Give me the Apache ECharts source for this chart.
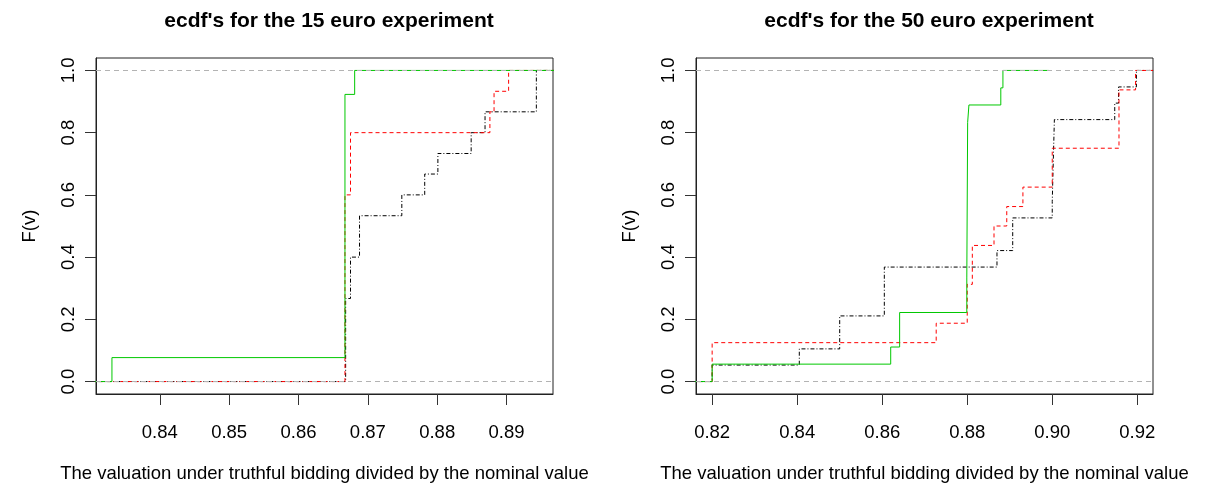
<!DOCTYPE html>
<html>
<head>
<meta charset="utf-8">
<title>ecdf's</title>
<script src="https://cdn.jsdelivr.net/npm/echarts@6/dist/echarts.min.js"></script>
<style>
  html, body { margin: 0; padding: 0; background: #fff; }
  #chart { width: 1206px; height: 486px; }
</style>
</head>
<body>
<div id="chart"></div>
<script>
  // step points (knot, F)
  var green15X = [0.8331, 0.8667, 0.8681]
  var green15F = [0.077, 0.923, 1]
  var red15X = [0.8667, 0.8675, 0.8876, 0.8882, 0.8903]
  var red15F = [0.6, 0.8, 0.867, 0.933, 1]
  var black15X = [0.8668, 0.8675, 0.8688, 0.8749, 0.8782, 0.8801, 0.8849, 0.8869, 0.8943]
  var black15F = [0.267, 0.4, 0.533, 0.6, 0.667, 0.733, 0.8, 0.867, 1]

  var green50X = [0.8200, 0.8620, 0.8641, 0.8799, 0.8801, 0.8804, 0.8879, 0.8884]
  var green50F = [0.056, 0.111, 0.222, 0.333, 0.833, 0.889, 0.944, 1]
  var red50X = [0.8200, 0.8727, 0.8800, 0.8812, 0.8863, 0.8893, 0.8931, 0.9000, 0.9157, 0.9196]
  var red50F = [0.125, 0.1875, 0.3125, 0.4375, 0.5, 0.5625, 0.625, 0.75, 0.9375, 1]
  var black50X = [0.8200, 0.8405, 0.8500, 0.8605, 0.8870, 0.8907, 0.9000, 0.9003, 0.9005, 0.9147, 0.9156, 0.9198]
  var black50F = [0.053, 0.105, 0.211, 0.368, 0.421, 0.526, 0.579, 0.737, 0.842, 0.895, 0.947, 1]
  var green50End = 0.8992   // green line stops short of the right edge

  var ticks15 = [0.84, 0.85, 0.86, 0.87, 0.88, 0.89]
  var ticks50 = [0.82, 0.84, 0.86, 0.88, 0.90, 0.92]
  var ticksF = [0, 0.2, 0.4, 0.6, 0.8, 1.0]

  var titles = ["ecdf's for the 15 euro experiment", "ecdf's for the 50 euro experiment"]
  var xName = 'The valuation under truthful bidding divided by the nominal value'
  var yName = 'F(v)'

  var FONT = "'Liberation Sans', Arial, sans-serif"

  function steps(xs, fs, start, end) {
    var pts = [[start, 0]]
    for (var i = 0; i < xs.length; i++) {
      pts.push([xs[i], fs[i]])
    }
    pts.push([end, 1])
    return pts
  }

  function xAxisOf(idx, min, max, ticks) {
    return {
      type: 'value',
      gridIndex: idx,
      min: min,
      max: max,
      name: xName,
      nameLocation: 'middle',
      nameGap: 70,
      nameTextStyle: { fontFamily: FONT, fontSize: 18.5, color: '#000' },
      axisLine: { show: true, onZero: false, lineStyle: { color: '#222', width: 1 } },
      axisTick: { show: true, length: 11, customValues: ticks, lineStyle: { color: '#333' } },
      axisLabel: {
        customValues: ticks,
        margin: 29,
        fontFamily: FONT,
        fontSize: 18.5,
        color: '#000',
        formatter: function(v) { return v.toFixed(2) }
      },
      splitLine: { show: false }
    }
  }

  function yAxisOf(idx) {
    return {
      type: 'value',
      gridIndex: idx,
      min: -0.04,
      max: 1.04,
      name: yName,
      nameLocation: 'middle',
      nameRotate: 90,
      nameGap: 57,
      nameTextStyle: { fontFamily: FONT, fontSize: 18.5, color: '#000' },
      axisLine: { show: true, onZero: false, lineStyle: { color: '#222', width: 1 } },
      axisTick: { show: true, length: 11, customValues: ticksF, lineStyle: { color: '#333' } },
      axisLabel: {
        customValues: ticksF,
        rotate: 90,
        margin: 18,
        fontFamily: FONT,
        fontSize: 18.5,
        color: '#000',
        formatter: function(v) { return v.toFixed(1) }
      },
      splitLine: { show: false }
    }
  }

  function stepSeries(idx, data, color, dash, z) {
    return {
      type: 'line',
      xAxisIndex: idx,
      yAxisIndex: idx,
      step: 'end',
      symbol: 'none',
      clip: true,
      z: z,
      lineStyle: { color: color, width: 1, type: dash },
      data: data
    }
  }

  function greyLines(idx) {
    return {
      type: 'line',
      xAxisIndex: idx,
      yAxisIndex: idx,
      data: [],
      z: 1,
      markLine: {
        silent: true,
        symbol: ['none', 'none'],
        label: { show: false },
        lineStyle: { color: '#b3b3b3', width: 1, type: [5, 4] },
        data: [{ yAxis: 0 }, { yAxis: 1 }]
      }
    }
  }

  var chart = echarts.init(document.getElementById('chart'))
  chart.setOption({
    animation: false,
    backgroundColor: '#fff',
    textStyle: { fontFamily: FONT },
    title: [{
      text: titles[0],
      left: 324,
      top: 6,
      textAlign: 'center',
      textStyle: { fontFamily: FONT, fontSize: 21, fontWeight: 'bold', color: '#000' }
    }, {
      text: titles[1],
      left: 924,
      top: 6,
      textAlign: 'center',
      textStyle: { fontFamily: FONT, fontSize: 21, fontWeight: 'bold', color: '#000' }
    }],
    grid: [
      { left: 96, top: 58, width: 457, height: 336, outerBoundsMode: 'none', containLabel: false,
        show: true, borderColor: '#222', borderWidth: 1 },
      { left: 696, top: 58, width: 457, height: 336, outerBoundsMode: 'none', containLabel: false,
        show: true, borderColor: '#222', borderWidth: 1 }
    ],
    xAxis: [
      xAxisOf(0, 0.8308, 0.8967, ticks15),
      xAxisOf(1, 0.8162, 0.9237, ticks50)
    ],
    yAxis: [yAxisOf(0), yAxisOf(1)],
    series: [
      greyLines(0),
      greyLines(1),
      stepSeries(0, steps(black15X, black15F, 0.80, 0.95), '#000', [4, 2, 1, 2], 2),
      stepSeries(0, steps(red15X, red15F, 0.80, 0.95), '#ff0000', [4, 3], 3),
      stepSeries(0, steps(green15X, green15F, 0.80, 0.95), '#00c800', 'solid', 4),
      stepSeries(1, steps(black50X, black50F, 0.80, 0.95), '#000', [4, 2, 1, 2], 2),
      stepSeries(1, steps(red50X, red50F, 0.80, 0.95), '#ff0000', [4, 3], 3),
      stepSeries(1, steps(green50X, green50F, 0.80, green50End), '#00c800', 'solid', 4)
    ]
  })
  window.addEventListener('resize', function() {
    chart.resize()
  })
</script>
</body>
</html>
